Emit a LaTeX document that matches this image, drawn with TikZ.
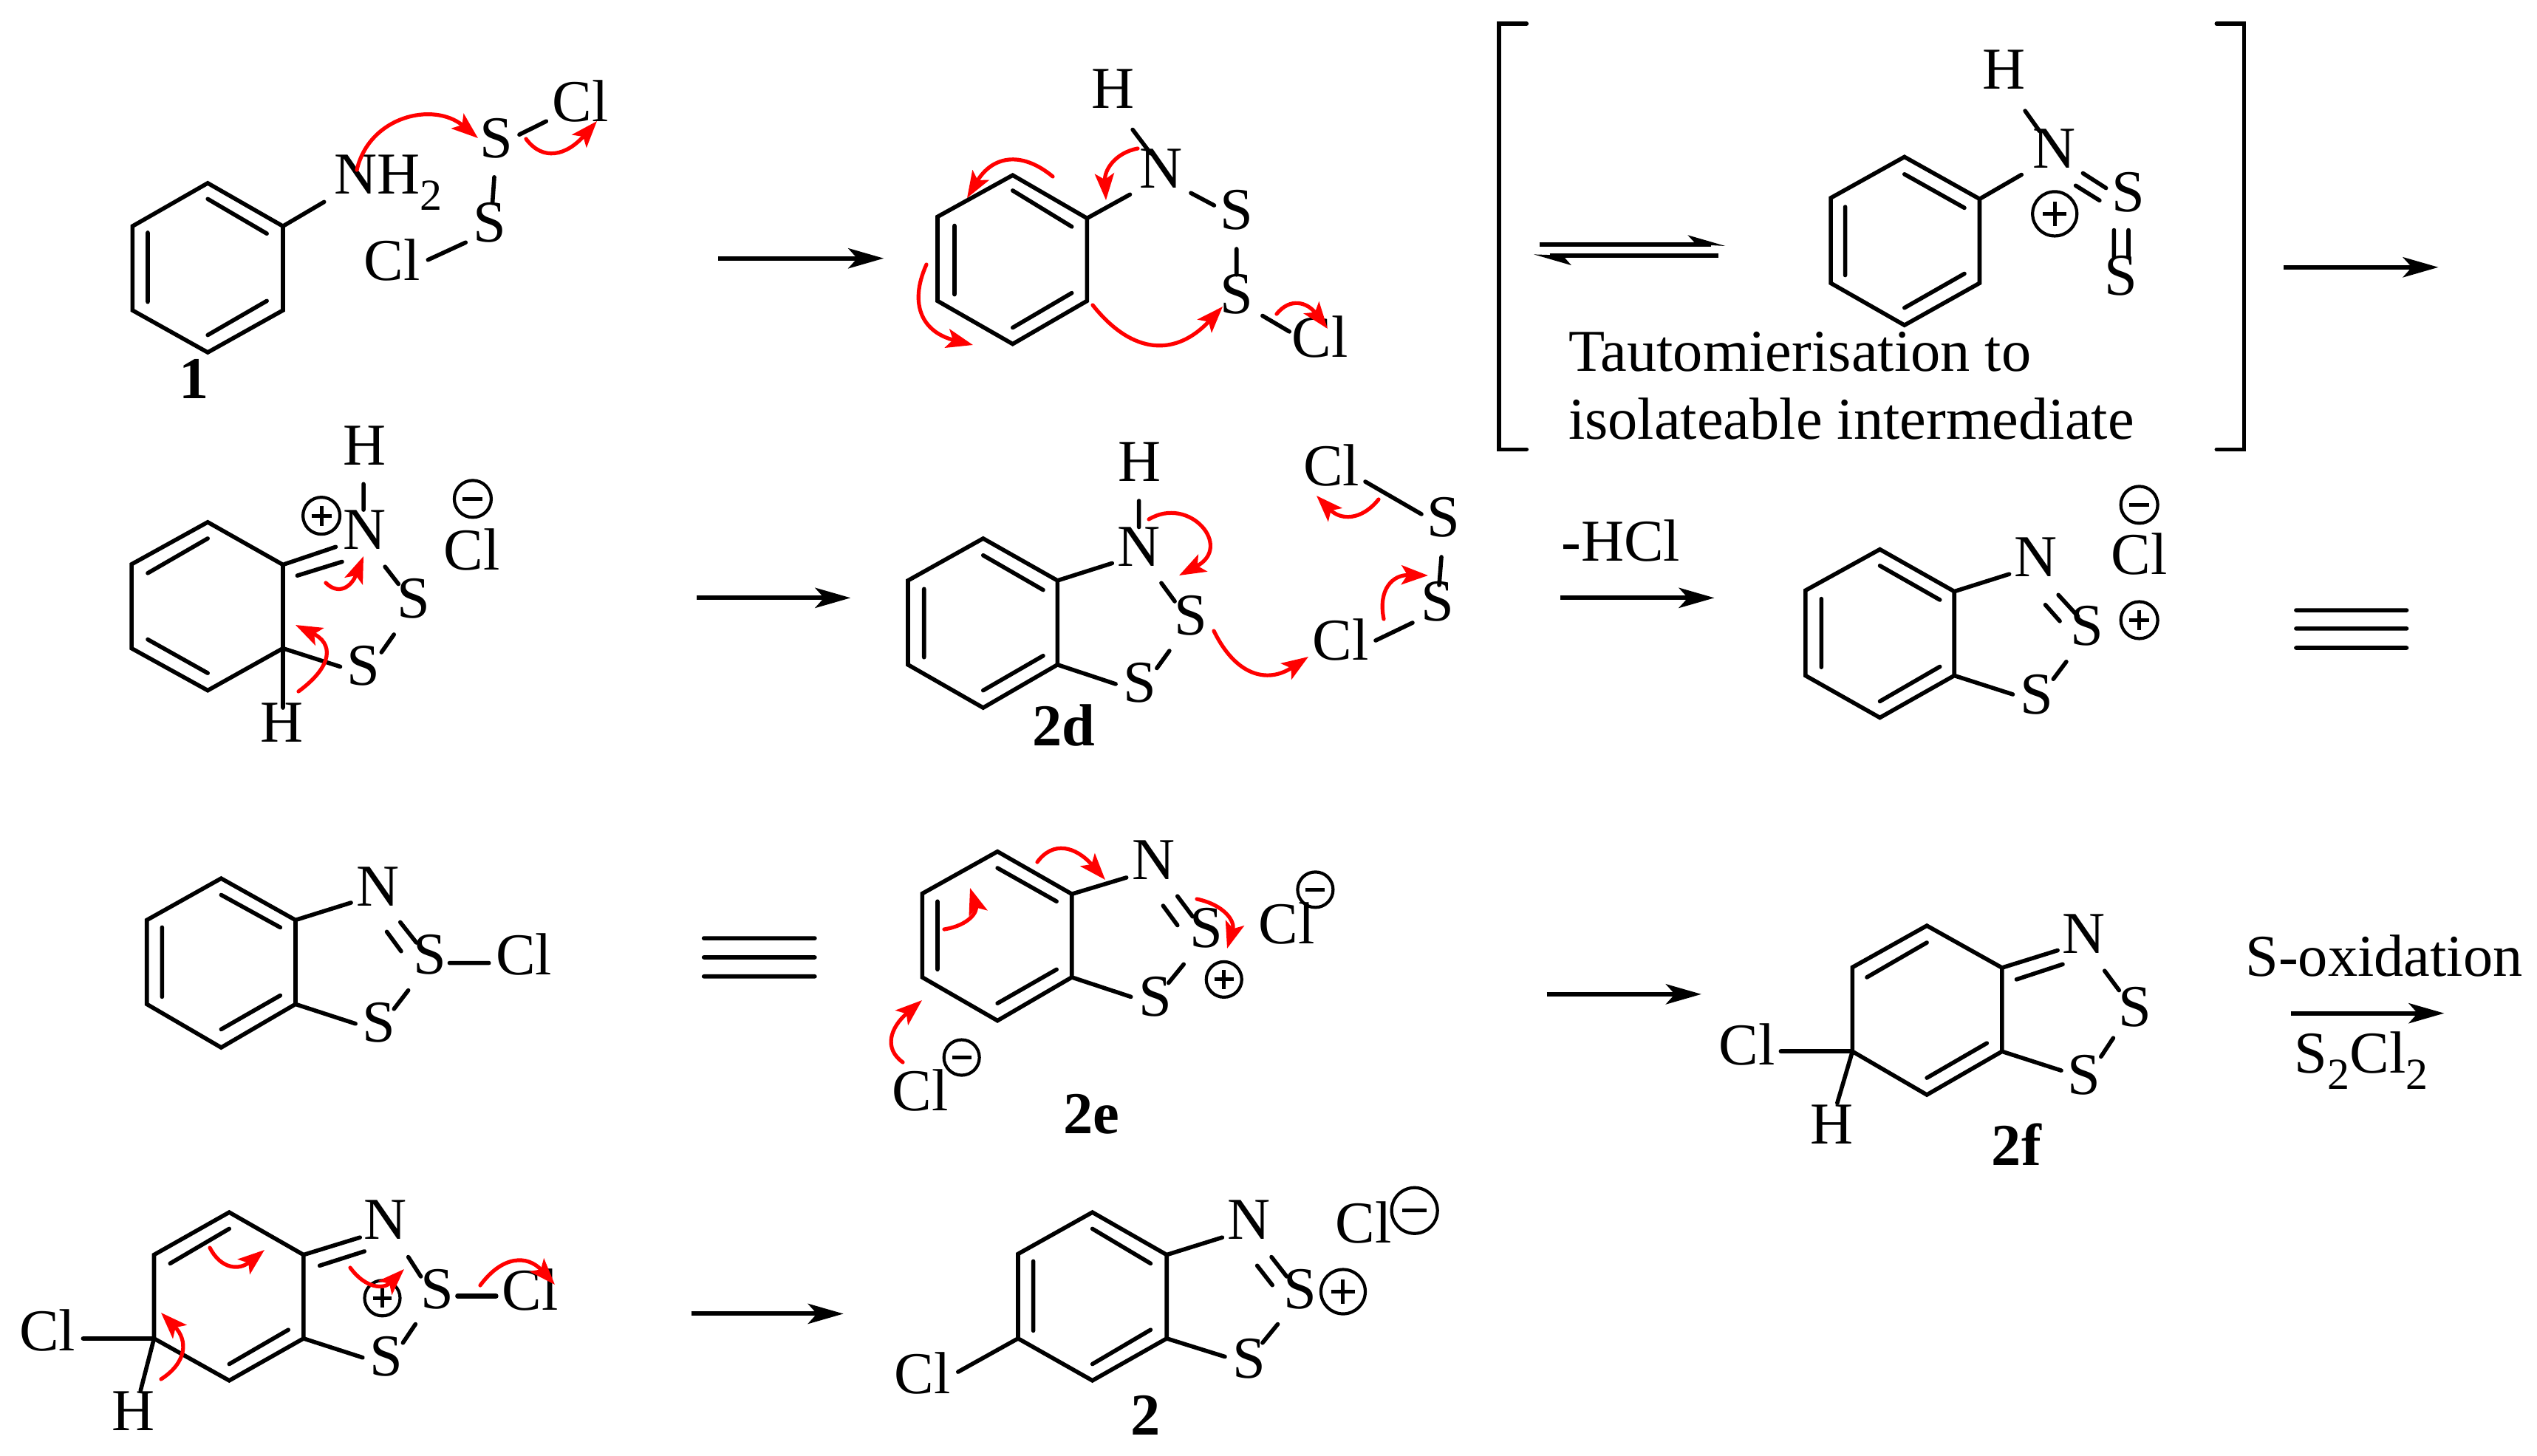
\documentclass[tikz,border=0pt]{standalone}
\usepackage{fontspec}
\setmainfont{Liberation Serif}
\usetikzlibrary{arrows.meta,calc}
\newcommand\subs[1]{\raisebox{-5.5pt}{\fontsize{15}{15}\selectfont #1}}
\tikzset{
  bond/.style={line width=1.4pt,line cap=round,line join=miter,black},
  rxn/.style={line width=1.5pt,black,-{Stealth[length=12pt,width=6.8pt,inset=3pt]}},
  curly/.style={line width=1.3pt,red,line cap=round,-{Stealth[length=9pt,width=6.5pt,inset=2pt]}},
  atom/.style={inner sep=0pt,outer sep=0pt,font=\fontsize{20.1}{24}\selectfont},
  tag/.style={inner sep=0pt,outer sep=0pt,font=\fontsize{20.1}{24}\selectfont\bfseries},
  txt/.style={inner sep=0pt,outer sep=0pt,anchor=base west,font=\fontsize{20.1}{24}\selectfont},
  chg/.style={circle,draw,line width=1.05pt,inner sep=0pt,outer sep=0pt},
  sign/.style={line width=1.25pt},
  zoneA/.style={x=.303pt,y=-.1675pt},
  zoneB/.style={shift={(475pt,0pt)},x=.2445pt,y=-.1675pt},
  zoneC/.style={shift={(0pt,-262.5pt)},x=.303pt,y=-.14675pt},
  zoneD/.style={shift={(475pt,-262.5pt)},x=.2445pt,y=-.14675pt},
  zoneR/.style={x=.25pt,y=-.25pt},
}
\newcommand\atm[3]{\node[atom] (#1) at (#2) {#3};}
\newcommand\chgp[3]{\node[chg,minimum size=#3pt] (#1) at (#2) {};
  \draw[sign] ([xshift=-0.27*#3pt]#1.center) -- ([xshift=0.27*#3pt]#1.center)
   ([yshift=-0.27*#3pt]#1.center) -- ([yshift=0.27*#3pt]#1.center);}
\newcommand\chgm[3]{\node[chg,minimum size=#3pt] (#1) at (#2) {};
  \draw[sign] ([xshift=-0.27*#3pt]#1.center) -- ([xshift=0.27*#3pt]#1.center);}
% curved arrow: start, point the curve passes midway, end
\newcommand\ra[3]{\coordinate (qq) at ($($(#1)!.5!(#3)$)!2!(#2)$);
  \draw[curly] (#1) .. controls ($(#1)!.667!(qq)$) and ($(#3)!.667!(qq)$) .. (#3);}
\begin{document}
\begin{tikzpicture}
\useasboundingbox (0pt,0pt) rectangle (858.5pt,-492.5pt);
\fill[white] (0pt,0pt) rectangle (858.5pt,-492.5pt);
%%%%% upper left
\begin{scope}[zoneA]
\draw[bond] (232,370)--(316,457)--(316,627)--(232,712)--(148,627)--(148,457)--cycle
 (232,402)--(298,472) (298,608)--(232,677) (165,470)--(165,610) (316,457)--(362,408)
 (580,272)--(610,245) (552,358)--(550,410) (520,490)--(478,525);
\node[txt] (nh) at (373,392) {NH\subs{2}};
\atm{sa}{554,280}{S}\atm{cla}{648,205}{Cl}\atm{sb}{547,450}{S}\atm{clb}{438,525}{Cl}
\node[tag] (one) at (217,765) {1};
\coordinate (r1a) at (802,522);\coordinate (r1b) at (987,522);
\draw[rxn] (r1a)--(r1b);
% second molecule
\draw[bond] (1131,354)--(1214,441)--(1214,608)--(1131,695)--(1047,608)--(1047,438)--cycle
 (1131,385)--(1197,458) (1197,592)--(1131,662) (1066,456)--(1066,595) (1214,441)--(1262,393)
 (1265,262)--(1285,310) (1330,390)--(1356,415) (1381,503)--(1381,555) (1410,638)--(1440,670);
\atm{nb}{1297,340}{N}\atm{hb}{1243,180}{H}\atm{sc}{1381,425}{S}\atm{sd}{1381,595}{S}\atm{clc}{1474,680}{Cl}
% row 2 left
\draw[bond] (232,1055)--(316,1141)--(316,1310)--(232,1395)--(147,1310)--(147,1140)--cycle
 (232,1088)--(165,1158) (165,1292)--(232,1360) (316,1141)--(375,1105) (332,1163)--(382,1135)
 (406,978)--(406,1030) (430,1145)--(445,1180) (440,1282)--(426,1318) (316,1310)--(380,1347)
 (316,1310)--(316,1430);
\atm{nc}{407,1070}{N}\atm{hc}{407,900}{H}\atm{se}{462,1210}{S}\atm{sf}{406,1345}{S}\atm{hd}{315,1460}{H}\atm{cld}{527,1110}{Cl}
\chgp{pa}{359,1042}{12.5}\chgm{ma}{528,1008}{12.5}
\coordinate (r2a) at (778,1208);\coordinate (r2b) at (950,1208);
\draw[rxn] (r2a)--(r2b);
% 2d
\draw[bond] (1098,1088)--(1181,1173)--(1181,1343)--(1098,1430)--(1014,1343)--(1014,1173)--cycle
 (1098,1122)--(1165,1192) (1165,1325)--(1098,1395) (1032,1190)--(1032,1328) (1181,1173)--(1242,1138)
 (1272,1012)--(1272,1065) (1297,1178)--(1312,1215) (1306,1315)--(1292,1350) (1181,1343)--(1246,1382);
\atm{nd}{1272,1105}{N}\atm{he}{1273,933}{H}\atm{sg}{1330,1243}{S}\atm{sh}{1273,1380}{S}
\atm{cle}{1487,940}{Cl}\atm{clf}{1497,1292}{Cl}
\node[tag] (twod) at (1188,1465) {2d};
\end{scope}
%%%%% upper right
\begin{scope}[zoneB]
\draw[bond] (170,48)--(132,48)--(132,908)--(170,908) (1125,48)--(1163,48)--(1163,908)--(1125,908);
\draw[line width=1.5pt] (188,494)--(425,494) (202,516)--(436,516);
\fill (445,497)--(393,475)--(405,494)--cycle (180,514)--(232,536)--(220,516)--cycle;
\draw[bond] (693,317)--(797,402)--(797,572)--(693,657)--(591,572)--(591,400)--cycle
 (693,352)--(776,420) (776,553)--(693,622) (611,418)--(611,556) (797,402)--(855,353)
 (860,224)--(880,265) (940,350)--(972,380) (930,375)--(963,405) (983,465)--(983,520) (1003,465)--(1003,520);
\atm{he2}{831,140}{H}\atm{ne}{900,300}{N}\atm{si}{1003,388}{S}\atm{sj}{993,557}{S}
\chgp{pb}{901,432}{15}
\node[txt] (t1) at (228,750) {Tautomierisation to};
\node[txt] (t2) at (228,888) {isolateable intermediate};
\coordinate (r3a) at (1218,540);\coordinate (r3b) at (1432,540);
\draw[rxn] (r3a)--(r3b);
\atm{sk}{55,1045}{S}\atm{sl}{47,1215}{S}
\node[txt] (hcl) at (218,1133) {-HCl};
\coordinate (r4a) at (217,1208);\coordinate (r4b) at (430,1208);
\draw[rxn] (r4a)--(r4b);
\draw[bond] (659,1110)--(762,1195)--(762,1365)--(659,1450)--(556,1365)--(556,1193)--cycle
 (659,1143)--(742,1212) (742,1347)--(659,1417) (578,1210)--(578,1348) (762,1195)--(838,1160)
 (906,1202)--(933,1245) (888,1222)--(908,1255) (917,1337)--(899,1372) (762,1365)--(843,1403)
 (1235,1233)--(1388,1233) (1235,1270)--(1388,1270) (1235,1309)--(1388,1309);
\atm{nf}{875,1125}{N}\atm{sm}{946,1265}{S}\atm{sn}{876,1403}{S}\atm{clg}{1018,1120}{Cl}
\chgm{mb}{1018,1020}{12.5}\chgp{pc}{1018,1253}{12.5}
\end{scope}
%%%%% lower left
\begin{scope}[zoneC]
\draw[bond] (247,237)--(330,333)--(330,527)--(247,627)--(164,527)--(164,333)--cycle
 (247,275)--(313,350) (313,507)--(247,585) (181,350)--(181,510) (330,333)--(392,293)
 (447,338)--(465,385) (432,360)--(448,405) (502,432)--(546,432) (456,495)--(440,538) (330,527)--(397,572)
 (786,375)--(910,375) (786,419)--(910,419) (786,463)--(910,463);
\atm{ng}{422,255}{N}\atm{so}{480,413}{S}\atm{clh}{585,413}{Cl}\atm{sp}{423,570}{S}
% 2e
\draw[bond] (1114,175)--(1197,273)--(1197,465)--(1114,565)--(1030,465)--(1030,272)--cycle
 (1114,213)--(1180,290) (1180,447)--(1114,525) (1047,290)--(1047,447) (1197,273)--(1258,235)
 (1315,278)--(1332,325) (1299,300)--(1315,345) (1322,435)--(1305,478) (1197,465)--(1263,510);
\atm{nh2}{1288,195}{N}\atm{sq}{1347,352}{S}\atm{sr}{1290,510}{S}\atm{cli}{1437,340}{Cl}\atm{clj}{1028,725}{Cl}
\chgm{mc}{1469,263}{12}\chgp{pd}{1367,470}{12}\chgm{md}{1074,650}{12}
\node[tag] (twoe) at (1219,780) {2e};
% bottom left
\draw[bond] (256,1007)--(339,1105)--(339,1298)--(256,1395)--(172,1298)--(172,1105)--cycle
 (256,1045)--(190,1125) (322,1278)--(256,1357) (339,1105)--(402,1065) (357,1130)--(407,1097)
 (456,1110)--(470,1155) (464,1265)--(450,1308) (339,1298)--(405,1342) (172,1298)--(157,1418);
\draw[bond,line width=1.6pt] (511,1200)--(554,1200) (93,1298)--(172,1298);
\atm{ni}{430,1025}{N}\atm{ss}{488,1185}{S}\atm{clk}{592,1185}{Cl}\atm{st}{431,1340}{S}\atm{cll}{53,1280}{Cl}\atm{hf}{149,1465}{H}
\chgp{pe}{427,1205}{12}
\coordinate (r5a) at (772,1241);\coordinate (r5b) at (942,1241);
\draw[rxn] (r5a)--(r5b);
% 2
\draw[bond] (1220,1007)--(1303,1105)--(1303,1298)--(1220,1395)--(1137,1298)--(1137,1103)--cycle
 (1220,1045)--(1285,1125) (1285,1278)--(1220,1357) (1154,1120)--(1154,1280) (1303,1105)--(1365,1065)
 (1420,1110)--(1437,1155) (1404,1130)--(1421,1175) (1427,1265)--(1410,1308) (1303,1298)--(1368,1340)
 (1137,1298)--(1070,1375);
\atm{nj}{1395,1025}{N}\atm{su}{1452,1185}{S}\atm{sv}{1395,1345}{S}\atm{clm}{1030,1378}{Cl}\atm{cln}{1523,1030}{Cl}
\chgp{pf}{1500,1190}{15}
\node[tag] (two) at (1279,1475) {2};
\end{scope}
%%%%% lower right
\begin{scope}[zoneD]
\chgm{me}{15,1003}{15.5}
\coordinate (r6a) at (198,504);\coordinate (r6b) at (412,504);
\draw[rxn] (r6a)--(r6b);
\draw[bond] (724,346)--(828,443)--(828,636)--(724,736)--(621,636)--(621,442)--cycle
 (724,385)--(641,465) (807,617)--(724,697) (828,443)--(905,403) (848,470)--(912,435)
 (970,450)--(990,495) (982,605)--(965,648) (828,636)--(910,680) (621,636)--(600,755);
\draw[bond,line width=1.5pt] (522,636)--(621,636);
\atm{nk}{941,365}{N}\atm{sw}{1012,533}{S}\atm{sx}{941,690}{S}\atm{clo}{475,620}{Cl}\atm{hg}{592,805}{H}
\node[tag] (twof) at (848,850) {2f};
\node[txt] (sox) at (1165,462) {S-oxidation};
\coordinate (r7a) at (1228,548);\coordinate (r7b) at (1440,548);
\draw[rxn] (r7a)--(r7b);
\node[txt] (s2) at (1233,685) {S\subs{2}Cl\subs{2}};
\end{scope}
%%%%% items in reference pixels: bonds across zones, then all curved arrows
\begin{scope}[zoneR]
\draw[bond] (1848,652)--(1924,696) (1862,867)--(1912,843) (1951,754)--(1948,792);
% top row
\draw[curly] (483,230) .. controls (500,157) and (587,137) .. (647,187);
\ra{712,188}{753,205}{808,164}
\ra{1425,239}{1363,219}{1309,268}
\ra{1540,201}{1506,223}{1497,271}
\ra{1254,358}{1251,427}{1317,467}
\ra{1479,413}{1564,465}{1655,415}
\ra{1728,425}{1759,413}{1797,445}
% row 2
\ra{441,789}{467,793}{492,753}
\ra{404,936}{439,887}{400,846}
\draw[curly] (1555,703) .. controls (1610,670) and (1670,740) .. (1596,779);
\ra{1643,854}{1697,908}{1771,889}
\ra{1866,676}{1827,697}{1782,671}
\ra{1873,838}{1882,793}{1933,779}
% row 3
\ra{1404,1167}{1443,1151}{1496,1191}
\ra{1620,1217}{1659,1240}{1661,1284}
\ra{1278,1258}{1312,1240}{1313,1202}
\ra{1222,1438}{1209,1403}{1248,1354}
% row 4
\ra{284,1689}{314,1712}{358,1692}
\ra{474,1716}{508,1738}{547,1718}
\ra{650,1740}{698,1709}{751,1739}
\ra{218,1867}{245,1827}{218,1777}
\end{scope}
\end{tikzpicture}
\end{document}
